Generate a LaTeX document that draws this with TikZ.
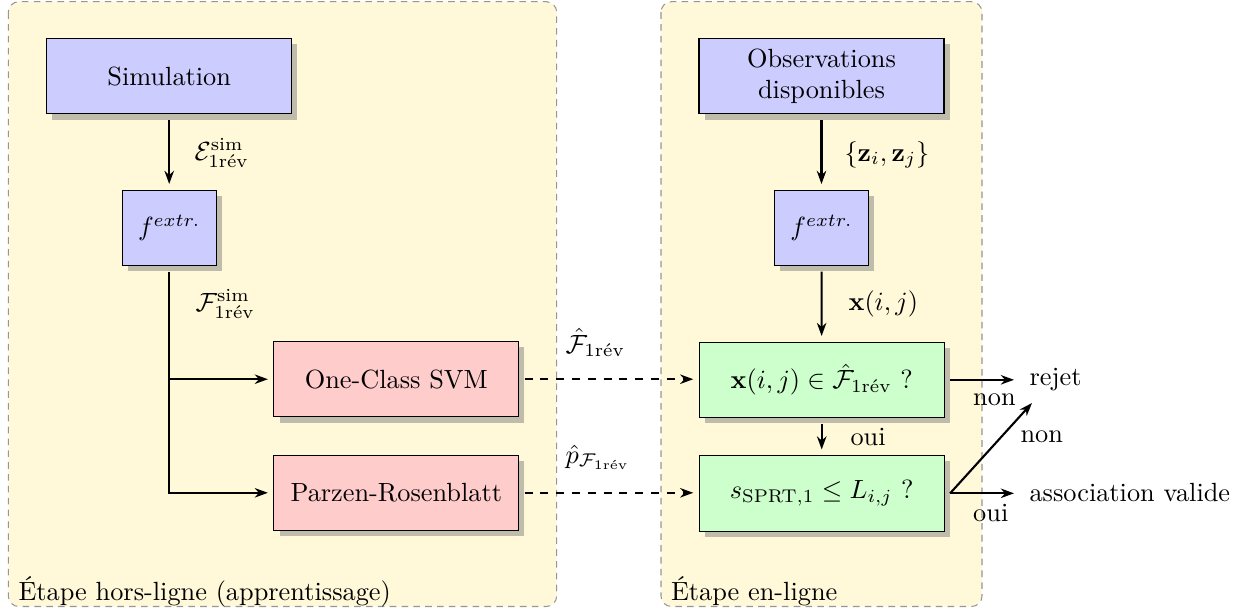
\documentclass[tikz,border=0pt]{standalone}
\usepackage{amsmath}
\usetikzlibrary{arrows.meta,shadows}
\def\pxu{0.38pt}
\definecolor{panelfill}{RGB}{255,249,217}
\definecolor{panelborder}{RGB}{150,150,150}
\tikzset{
  panel/.style={draw=panelborder, fill=panelfill, rounded corners=4pt, line width=0.4pt, dash pattern=on 2.5pt off 2pt},
  box/.style={draw=black, line width=0.4pt, drop shadow, minimum height=75.5*\pxu, inner sep=2pt, outer sep=2.3pt, align=center},
  bluebox/.style={box, fill=blue!20},
  redbox/.style={box, fill=red!20},
  greenbox/.style={box, fill=green!20},
  lbl/.style={inner sep=0pt, anchor=base west},
  arr/.style={thick, -{Stealth[length=5pt,width=3.6pt,inset=1.6pt]}},
  darr/.style={arr, dashed},
}
\begin{document}
\begin{tikzpicture}[x=\pxu, y=-\pxu]
\useasboundingbox (0,0) rectangle (1259,611);
% panels
\draw[panel] (8.3,1.7) rectangle (556.7,606.5);
\draw[panel] (661,1.7) rectangle (982,606.5);
% boxes
\node[bluebox, minimum width=245*\pxu] (sim) at (169.2,76.2) {Simulation};
\node[bluebox, minimum width=93.7*\pxu] (fx1) at (169.2,227.8) {$f^{extr.}$};
\node[redbox, minimum width=244.7*\pxu] (svm) at (396.3,379.2) {One-Class SVM};
\node[redbox, minimum width=244.7*\pxu] (parz) at (396.3,492.8) {Parzen-Rosenblatt};
\node[bluebox, minimum width=245*\pxu] (obs) at (821.5,76.2) {Observations\\disponibles};
\node[bluebox, minimum width=93.7*\pxu] (fx2) at (821.5,227.8) {$f^{extr.}$};
\node[greenbox, minimum width=244.7*\pxu] (g1) at (821.7,379.8) {$\mathbf{x}(i,j)\in\hat{\mathcal{F}}_{\text{1rév}}$ ?};
\node[greenbox, minimum width=244.7*\pxu] (g2) at (821.7,493.3) {$s_{\text{SPRT},1}\le L_{i,j}$ ?};
% labels
\node[lbl] (lE) at (194,160) {$\mathcal{E}^{\text{sim}}_{\text{1rév}}$};
\node[lbl] (lF) at (195,311) {$\mathcal{F}^{\text{sim}}_{\text{1rév}}$};
\node[lbl] (lz) at (844,161) {$\{\mathbf{z}_i,\mathbf{z}_j\}$};
\node[lbl] (lx) at (848,310) {$\mathbf{x}(i,j)$};
\node[lbl] (lFh) at (565,353) {$\hat{\mathcal{F}}_{\text{1rév}}$};
\node[lbl] (lp) at (565,463) {$\hat{p}_{\mathcal{F}_{\text{1rév}}}$};
\node[lbl] (loui1) at (850,445) {oui};
\node[lbl] (lnon1) at (972.7,405) {non};
\node[lbl] (rejet) at (1029,385) {rejet};
\node[lbl] (lnon2) at (1020,442.7) {non};
\node[lbl] (assoc) at (1029,501.5) {association valide};
\node[lbl] (loui2) at (972.7,521.7) {oui};
\node[lbl] (t1) at (18,600) {Étape hors-ligne (apprentissage)};
\node[lbl] (t2) at (670.5,600) {Étape en-ligne};
\coordinate (rjin) at (1032,403);
% connectors
\draw[arr] (sim) -- (fx1);
\draw[arr] (fx1) |- (svm);
\draw[arr] (fx1) |- (parz);
\draw[darr] (svm.east) -- (g1.west |- svm.east);
\draw[darr] (parz.east) -- (g2.west |- parz.east);
\draw[arr] (obs) -- (fx2);
\draw[arr] (fx2) -- (g1);
\draw[arr] (g1) -- (g2);
\draw[arr, shorten >=5.7pt] (g1.east) -- (rejet.west |- g1.east);
\draw[arr] (g2.east) -- (rjin);
\draw[arr, shorten >=5.7pt] (g2.east) -- (assoc.west |- g2.east);
\end{tikzpicture}
\end{document}
